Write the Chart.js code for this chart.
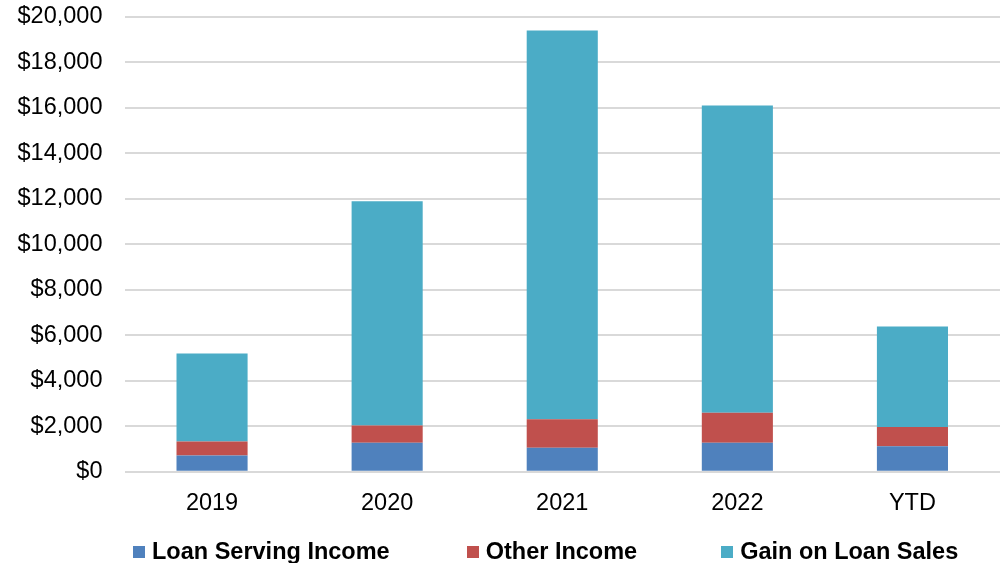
<!DOCTYPE html>
<html>
<head>
<meta charset="utf-8">
<script src="https://cdn.jsdelivr.net/npm/chart.js"></script>
<style>
  html, body { margin: 0; padding: 0; background: #fff; }
  #wrap { position: relative; width: 1005px; height: 563px; }
  #legend {
    position: absolute; left: 133px; top: 538px;
    display: flex;
    font: bold 23.5px "Liberation Sans", Arial, sans-serif; color: #000;
  }
  #legend .item { display: flex; align-items: center; white-space: nowrap; }
  #legend .item + .item { margin-left: 77px; }
  #legend .item:last-child { margin-left: 84px; }
  #legend .box { width: 12px; height: 12px; margin-right: 7px; }
</style>
</head>
<body>
<div id="wrap">
  <canvas id="chart" width="1005" height="563"></canvas>
  <div id="legend"></div>
</div>
<script>
const categories = ['2019', '2020', '2021', '2022', 'YTD'];
const loanServingIncome = [720, 1280, 1060, 1280, 1120];
const otherIncome = [615, 760, 1250, 1320, 850];
const gainOnLoanSales = [3865, 9860, 17100, 13510, 4420];
const seriesNames = ['Loan Serving Income', 'Other Income', 'Gain on Loan Sales'];
const seriesColors = ['#4f81bd', '#c0504d', '#4bacc6'];

const tickFont = { family: '"Liberation Sans", Arial, sans-serif', size: 23.5 };

const datasets = [loanServingIncome, otherIncome, gainOnLoanSales].map((values, i) => ({
    label: seriesNames[i],
    data: values,
    backgroundColor: seriesColors[i],
    borderWidth: 0,
    barPercentage: 0.406,
    categoryPercentage: 1
}));

new Chart(document.getElementById('chart').getContext('2d'), {
    type: 'bar',
    data: { labels: categories, datasets: datasets },
    options: {
        responsive: false,
        animation: false,
        layout: { padding: { left: 0, right: 5, top: 17, bottom: 35 } },
        plugins: {
            legend: { display: false },
            tooltip: { enabled: false }
        },
        scales: {
            x: {
                stacked: true,
                grid: { display: false },
                border: { display: false },
                ticks: { color: '#000', font: tickFont, padding: 10 }
            },
            y: {
                stacked: true,
                min: 0,
                max: 20000,
                afterFit: scale => {
                    scale.width = 124.5;
                    scale.paddingTop = 0;
                    scale.paddingBottom = 0;
                },
                grid: { color: '#d9d9d9', lineWidth: 2, drawTicks: false },
                border: { display: false },
                ticks: {
                    stepSize: 2000,
                    color: '#000',
                    font: tickFont,
                    padding: 22,
                    callback: v => '$' + v.toLocaleString('en-US')
                }
            }
        }
    }
});

// legend built from the series names and colours
const legend = document.getElementById('legend');
seriesNames.forEach((name, i) => {
    const item = document.createElement('div');
    item.className = 'item';
    item.innerHTML = `<span class="box" style="background:${seriesColors[i]}"></span><span>${name}</span>`;
    legend.appendChild(item);
});
</script>
</body>
</html>
